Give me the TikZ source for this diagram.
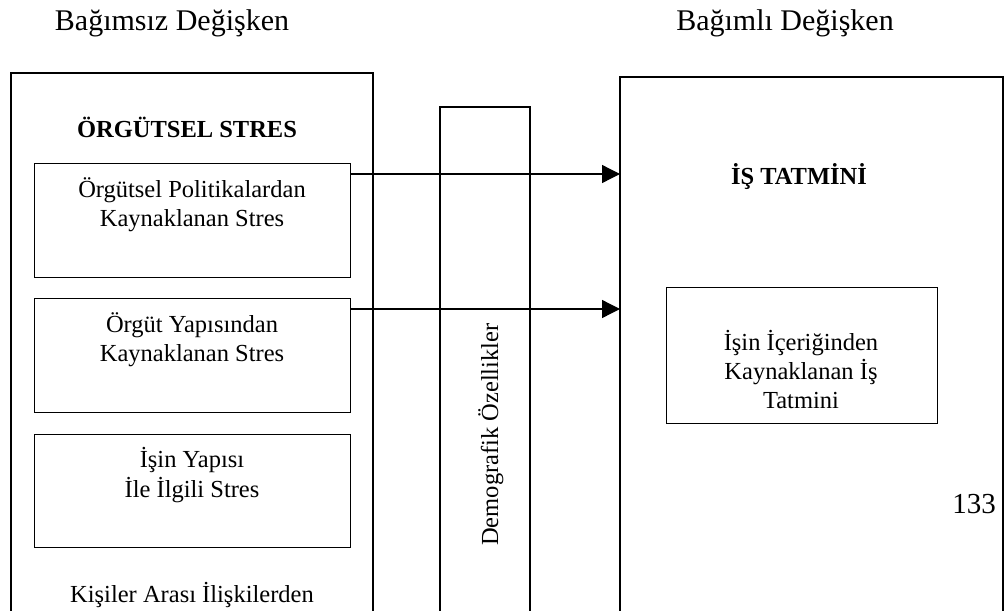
\documentclass[tikz,border=0pt]{standalone}
\usepackage{fontspec}
\setmainfont{Liberation Serif}
\usetikzlibrary{arrows.meta}
\begin{document}
\begin{tikzpicture}[x=1pt,y=-1pt,
  edge/.style={line width=1.3pt},
  boxnode/.style={draw, line width=1.3pt, inner sep=0pt, anchor=north west},
  txt/.style={inner sep=0pt, anchor=base, font=\fontsize{24.5}{29}\selectfont},
  boldtxt/.style={inner sep=0pt, anchor=base, font=\fontsize{24.5}{29}\selectfont\bfseries},
  headtxt/.style={inner sep=0pt, anchor=base, font=\fontsize{30}{36}\selectfont},
  arr/.style={line width=1.3pt, -{Triangle[length=18pt,width=18pt]}}]
\useasboundingbox (0,0) rectangle (1005,611);

% headings
\node[headtxt] (hL) at (172,30) {Bağımsız Değişken};
\node[headtxt] (hR) at (785,30) {Bağımlı Değişken};

% left big box (open at bottom)
\coordinate (Ltl) at (11,73);
\draw[edge] (11,611) |- (373,73) -- (373,611);
\node[boldtxt] (os) at (187,137) {ÖRGÜTSEL STRES};

% inner boxes
\node[boxnode, minimum width=316pt, minimum height=114pt] (b1) at (34,163) {};
\node[txt] (b1a) at (192,197) {Örgütsel Politikalardan};
\node[txt] (b1b) at (192,226) {Kaynaklanan Stres};

\node[boxnode, minimum width=316pt, minimum height=114pt] (b2) at (34,298) {};
\node[txt] (b2a) at (192,332) {Örgüt Yapısından};
\node[txt] (b2b) at (192,361) {Kaynaklanan Stres};

\node[boxnode, minimum width=316pt, minimum height=113pt] (b3) at (34,434) {};
\node[txt] (b3a) at (192,467) {İşin Yapısı};
\node[txt] (b3b) at (192,497) {İle İlgili Stres};

\node[txt] (b4a) at (192,602) {Kişiler Arası İlişkilerden};

% middle column
\draw[edge] (440,611) |- (530,107) -- (530,611);
\node[txt, rotate=90, anchor=base west] (demo) at (498,546) {Demografik Özellikler};

% right big box (open at bottom)
\coordinate (Rtl) at (620,77);
\draw[edge] (620,611) |- (1003,77) -- (1003,611);
\node[boldtxt] (it) at (799,184) {İŞ TATMİNİ};

\node[boxnode, minimum width=271pt, minimum height=136pt] (r1) at (666,287) {};
\node[txt] (r1a) at (801,350) {İşin İçeriğinden};
\node[txt] (r1b) at (801,379) {Kaynaklanan İş};
\node[txt] (r1c) at (801,408) {Tatmini};

\node[headtxt, font=\fontsize{29}{34}\selectfont] (pg) at (974,513) {133};

% arrows
\draw[arr] ([yshift=-11pt]b1.north east) -- ([yshift=-11pt]b1.north east -| Rtl);
\draw[arr] ([yshift=-11pt]b2.north east) -- ([yshift=-11pt]b2.north east -| Rtl);
\end{tikzpicture}
\end{document}
